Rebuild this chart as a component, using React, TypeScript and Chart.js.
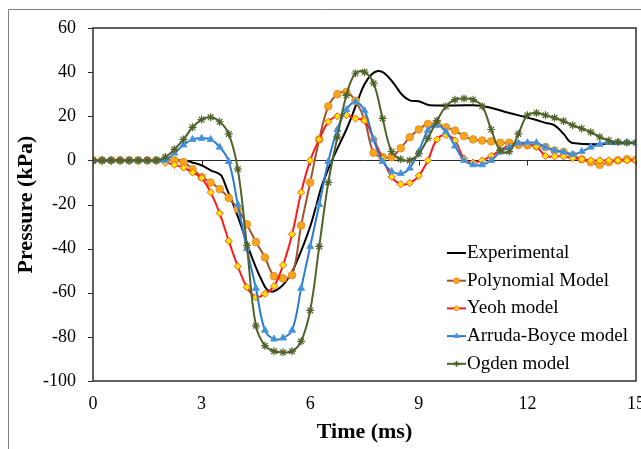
import React, { useEffect, useRef } from "react";
import { Chart, registerables } from "chart.js";

Chart.register(...registerables);

// ---------- data ----------
const TIMES = [
  0, 0.25, 0.5, 0.75, 1, 1.25, 1.5, 1.75, 2, 2.25, 2.5, 2.75, 3, 3.25, 3.5, 3.75,
  4, 4.25, 4.5, 4.75, 5, 5.25, 5.5, 5.75, 6, 6.25, 6.5, 6.75, 7, 7.25, 7.5, 7.75,
  8, 8.25, 8.5, 8.75, 9, 9.25, 9.5, 9.75, 10, 10.25, 10.5, 10.75, 11, 11.25, 11.5, 11.75,
  12, 12.25, 12.5, 12.75, 13, 13.25, 13.5, 13.75, 14, 14.25, 14.5, 14.75, 15,
];

const EXP_T = [
  0, 2.5, 2.8, 3.0, 3.25, 3.45, 3.55, 3.7, 3.9, 4.1, 4.3, 4.5, 4.65, 4.8, 4.95, 5.1,
  5.3, 5.5, 5.65, 5.8, 6.0, 6.15, 6.3, 6.45, 6.6, 6.8, 7.0, 7.15, 7.3, 7.5, 7.7, 7.87,
  8.05, 8.3, 8.55, 8.75, 9.0, 9.3, 10.5, 10.9, 11.5, 12.2, 12.5, 12.75, 13.0, 13.25, 15,
];
const EXP_V = [
  0, 0, -1.2, -2.3, -4.5, -5.8, -7, -13, -21, -30, -40, -48.5, -54, -58.5, -59.5, -58.5,
  -55.5, -50.5, -45, -39, -30, -21.5, -12.5, -6, 0, 7, 14, 20, 26.5, 34.5, 39, 40.5,
  39.5, 35, 29.5, 27.2, 26.8, 25, 25, 24.2, 21.5, 18.5, 17, 15.9, 12, 7.9, 7.9,
];

const POLY = [
  0, 0, 0, 0, 0, 0, 0, 0, 0, 0,
  -0.8, -4, -7.5, -10, -13, -17, -22, -29, -37, -44, -52.5, -53.5, -52, -29.5,
  -10, 9.5, 24.5, 30, 31, 27, 18.5, 3.5, 1.5, 1.5, 5.5, 10.5, 14, 16.5, 16.5, 15,
  13.5, 11, 9.5, 9, 8.6, 8, 8, 7, 6.8, 6.5, 6, 4.5, 3.8, 2.3, 0.5, -0.8,
  -2, -0.8, 0, 0.5, 0.3,
];

const YEOH = [
  0, 0, 0, 0, 0, 0, 0, 0,
  -1, -2, -3.3, -5.5, -8, -14.5, -24, -36.5, -48, -57.5, -62, -60.5, -57, -47.5,
  -33.5, -14.5, 0, 9.5, 17.5, 20, 20.5, 19, 18, 9.8, 0.8, -7.5, -10.8, -10.3, -7, 0,
  9.5, 11.5, 9, 0.8, -1, 0, 2, 4.5, 6.8, 7.5, 7.5, 6.3, 2, 1.8, 1.8, 1, 0.5, 0,
  0, 0, 0, 0, 0,
];

const ARRUDA = [
  0, 0, 0, 0, 0, 0, 0, 0,
  0, 3.3, 7, 9.5, 10, 9.5, 6, -0.5, -20, -40, -58, -77, -81, -80.5, -77, -58,
  -39, -20, -0.5, 14, 23, 26.5, 22.5, 9.5, -0.5, -5, -6, -3.5, 4, 13.5, 16, 13,
  6.5, 0, -2, -2, 0, 3.8, 6, 7.8, 8, 8, 6, 4.5, 3.8, 2.7, 4, 6,
  7.3, 8.2, 8.2, 8.2, 8.2,
];

const OGDEN = [
  0, 0, 0, 0, 0, 0, 0, 0,
  1.5, 5, 9.5, 15, 18.5, 19.5, 17.5, 12, -4, -38.5, -75, -84, -86.5, -87, -86.5, -82,
  -68, -39, -10, 10.5, 29.5, 39.5, 40, 35, 19, 4, 0.5, 0, 3, 10, 18, 24.5,
  27.5, 28, 27.5, 24.5, 14, 4.5, 4, 12, 20.5, 21.5, 20.5, 19.3, 17.8, 15.9, 14.4, 12.8,
  10.6, 9, 8.3, 8, 8,
];

const SERIES_NAMES = ["Experimental", "Polynomial Model", "Yeoh model", "Arruda-Boyce model", "Ogden model"];
const X_TICKS = [0, 3, 6, 9, 12, 15];
const Y_TICKS = [-100, -80, -60, -40, -20, 0, 20, 40, 60];

const FONT = '"Liberation Serif", "Times New Roman", serif';

function drawMarker(ctx: CanvasRenderingContext2D, style: string, x: number, y: number, r: number, fill: string, stroke: string, bw: number) {
  ctx.save();
  ctx.fillStyle = fill;
  ctx.strokeStyle = stroke;
  ctx.lineWidth = bw;
  ctx.beginPath();
  if (style === "circle") {
    ctx.arc(x, y, r, 0, Math.PI * 2);
    ctx.fill();
    ctx.stroke();
  } else if (style === "rectRot") {
    ctx.moveTo(x, y - r);
    ctx.lineTo(x + r, y);
    ctx.lineTo(x, y + r);
    ctx.lineTo(x - r, y);
    ctx.closePath();
    ctx.fill();
    ctx.stroke();
  } else if (style === "triangle") {
    const s = (3 * r) / Math.sqrt(3);
    const h = (s * Math.sqrt(3)) / 2;
    ctx.moveTo(x - s / 2, y + h / 3);
    ctx.lineTo(x + s / 2, y + h / 3);
    ctx.lineTo(x, y - (2 * h) / 3);
    ctx.closePath();
    ctx.fill();
    ctx.stroke();
  } else if (style === "star") {
    for (let k = 0; k < 4; k++) {
      const a = (k * Math.PI) / 4;
      ctx.moveTo(x + Math.cos(a) * r, y + Math.sin(a) * r);
      ctx.lineTo(x - Math.cos(a) * r, y - Math.sin(a) * r);
    }
    ctx.stroke();
  }
  ctx.restore();
}

const decorPlugin = {
  id: "decor",
  beforeDatasetsDraw(chart: any) {
    const { ctx, chartArea: a, scales } = chart;
    const x = scales.x;
    const y = scales.y;
    ctx.save();
    ctx.strokeStyle = "#2b2b2b";
    ctx.lineWidth = 1;
    const y0 = Math.round(y.getPixelForValue(0)) + 0.5;
    ctx.beginPath();
    ctx.moveTo(a.left, y0);
    ctx.lineTo(a.right, y0);
    for (const t of X_TICKS) {
      const px = Math.round(x.getPixelForValue(t)) + 0.5;
      ctx.moveTo(px, y0);
      ctx.lineTo(px, y0 + 5);
    }
    for (const v of Y_TICKS) {
      const py = Math.round(y.getPixelForValue(v)) + 0.5;
      ctx.moveTo(a.left - 5, py);
      ctx.lineTo(a.left, py);
    }
    ctx.stroke();
    ctx.restore();
  },
  afterDatasetsDraw(chart: any) {
    const { ctx, chartArea: a } = chart;
    ctx.save();
    ctx.strokeStyle = "#3a3a3a";
    ctx.lineWidth = 1.6;
    ctx.strokeRect(a.left, a.top, a.right - a.left, a.bottom - a.top);
    ctx.restore();
  },
  afterDraw(chart: any) {
    const { ctx } = chart;
    ctx.save();
    // outer frame
    ctx.strokeStyle = "#808080";
    ctx.lineWidth = 1;
    ctx.beginPath();
    ctx.moveTo(8.5, 449);
    ctx.lineTo(8.5, 9.5);
    ctx.lineTo(641, 9.5);
    ctx.stroke();
    // legend
    const x0 = 447;
    const lineLen = 19;
    const top = 253;
    const gap = 27.7;
    ctx.font = `19px ${FONT}`;
    ctx.textBaseline = "middle";
    ctx.textAlign = "left";
    chart.data.datasets.forEach((ds: any, i: number) => {
      const yy = top + i * gap;
      ctx.strokeStyle = ds.borderColor;
      ctx.lineWidth = 2;
      ctx.beginPath();
      ctx.moveTo(x0, yy);
      ctx.lineTo(x0 + lineLen, yy);
      ctx.stroke();
      if (ds.pointRadius > 0) {
        drawMarker(ctx, ds.pointStyle, x0 + lineLen / 2, yy, ds.pointRadius * 0.75, ds.pointBackgroundColor, ds.pointBorderColor, 1);
      }
      ctx.fillStyle = "#000";
      ctx.fillText(SERIES_NAMES[i], x0 + lineLen + 1, yy);
    });
    ctx.restore();
  },
};

export default function App() {
  const canvasRef = useRef<HTMLCanvasElement | null>(null);

  useEffect(() => {
    if (!canvasRef.current) return;
    Chart.defaults.font.family = FONT;
    Chart.defaults.color = "#000";

    const pts = (vals: number[]) => TIMES.map((t, i) => ({ x: t, y: vals[i] }));

    const chart = new Chart(canvasRef.current, {
      type: "line",
      data: {
        datasets: [
          {
            label: SERIES_NAMES[0],
            data: EXP_T.map((t, i) => ({ x: t, y: EXP_V[i] })),
            borderColor: "#000000",
            borderWidth: 2,
            pointRadius: 0,
            tension: 0.4,
            order: 5,
          },
          {
            label: SERIES_NAMES[1],
            data: pts(POLY),
            borderColor: "#A0522D",
            borderWidth: 2,
            pointStyle: "circle",
            pointRadius: 3.8,
            pointBackgroundColor: "#F7A51C",
            pointBorderColor: "#E8902A",
            pointBorderWidth: 1,
            tension: 0.4,
            order: 4,
          },
          {
            label: SERIES_NAMES[2],
            data: pts(YEOH),
            borderColor: "#FF1A1A",
            borderWidth: 2,
            pointStyle: "rectRot",
            pointRadius: 3.6,
            pointBackgroundColor: "#FFE600",
            pointBorderColor: "#FF5A1A",
            pointBorderWidth: 1,
            tension: 0.4,
            order: 3,
          },
          {
            label: SERIES_NAMES[3],
            data: pts(ARRUDA),
            borderColor: "#2A7AD4",
            borderWidth: 2,
            pointStyle: "triangle",
            pointRadius: 4,
            pointBackgroundColor: "#3D8FE0",
            pointBorderColor: "#5B9BD5",
            pointBorderWidth: 1,
            tension: 0.4,
            order: 2,
          },
          {
            label: SERIES_NAMES[4],
            data: pts(OGDEN),
            borderColor: "#4F6228",
            borderWidth: 2,
            pointStyle: "star",
            pointRadius: 4,
            pointBackgroundColor: "#4F6228",
            pointBorderColor: "#4F6228",
            pointBorderWidth: 1.2,
            tension: 0.4,
            order: 1,
          },
        ],
      },
      options: {
        responsive: false,
        animation: false,
        events: [],
        layout: { padding: { left: 0, top: 28, right: 5, bottom: 0 }, autoPadding: false },
        plugins: {
          legend: { display: false },
          tooltip: { enabled: false },
        },
        scales: {
          x: {
            type: "linear",
            min: 0,
            max: 15,
            afterBuildTicks: (s: any) => {
              s.ticks = X_TICKS.map((v) => ({ value: v }));
            },
            ticks: { padding: 12, font: { size: 18 }, color: "#000", maxRotation: 0, autoSkip: false },
            grid: { display: false, drawTicks: false },
            border: { display: false },
            title: {
              display: true,
              text: "Time (ms)",
              font: { size: 22, weight: "bold" },
              color: "#000",
              padding: { top: 0, bottom: 3 },
            },
            afterFit: (s: any) => {
              s.height = 68;
              s.paddingLeft = 0;
              s.paddingRight = 0;
            },
          },
          y: {
            type: "linear",
            min: -100,
            max: 60,
            afterBuildTicks: (s: any) => {
              s.ticks = Y_TICKS.map((v) => ({ value: v }));
            },
            ticks: { padding: 17, font: { size: 18 }, color: "#000" },
            grid: { display: false, drawTicks: false },
            border: { display: false },
            title: {
              display: true,
              text: "Pressure (kPa)",
              font: { size: 22, weight: "bold" },
              color: "#000",
              padding: { top: 13, bottom: 0 },
            },
            afterFit: (s: any) => {
              s.width = 93;
              s.paddingTop = 0;
              s.paddingBottom = 0;
            },
          },
        },
      },
      plugins: [decorPlugin],
    } as any);

    return () => chart.destroy();
  }, []);

  return (
    <div style={{ position: "absolute", left: 0, top: 0, width: 641, height: 449, background: "#fff", overflow: "hidden" }}>
      <canvas ref={canvasRef} width={641} height={449} style={{ display: "block" }} />
    </div>
  );
}
